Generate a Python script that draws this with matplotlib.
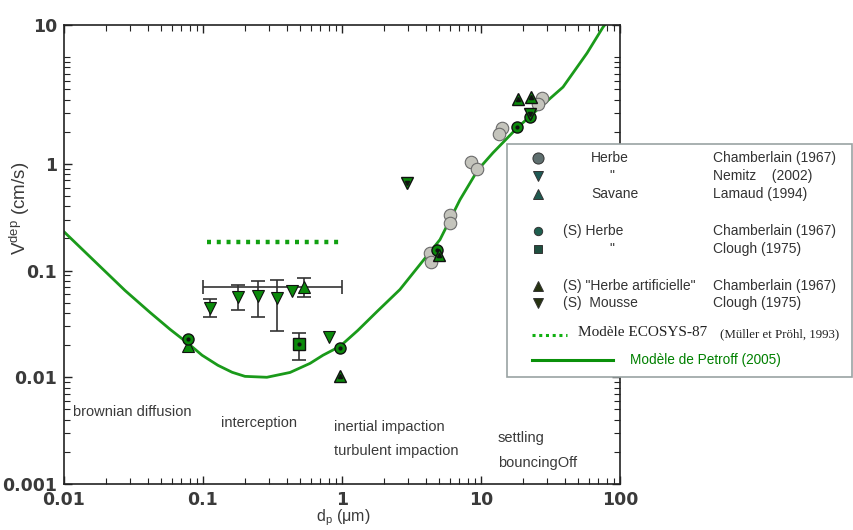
import numpy as np
import matplotlib
matplotlib.use("Agg")
import matplotlib.pyplot as plt
from matplotlib.lines import Line2D
from matplotlib.patches import Rectangle

# Modele de Petroff (2005)
petroff_x = [0.01, 0.0182, 0.0275, 0.0416, 0.058, 0.078, 0.0984, 0.128, 0.162, 0.2005,
             0.288, 0.423, 0.589, 0.73, 0.968, 1.30, 1.79, 2.61, 3.64, 5.07,
             7.06, 9.5, 12.2, 18.2, 25.3, 38.9, 57.9, 75.5, 80]
petroff_y = [0.231, 0.109, 0.065, 0.0405, 0.0281, 0.0208, 0.0161, 0.01295, 0.01114, 0.0102,
             0.0100, 0.0111, 0.0135, 0.0161, 0.0195, 0.0275, 0.0414, 0.0664, 0.114, 0.195,
             0.461, 0.879, 1.27, 2.17, 3.20, 5.24, 10.9, 19.1, 21]

# Modele ECOSYS-87
ecosys_x = [0.107, 1.0]
ecosys_y = [0.187, 0.187]

# Herbe - Chamberlain (1967)
herbe_x = [4.3, 4.4, 6.0, 6.0, 8.5, 9.35, 14.2, 13.4, 27.5, 25.7]
herbe_y = [0.147, 0.121, 0.333, 0.28, 1.04, 0.90, 2.17, 1.9, 4.14, 3.64]

# Nemitz (2002)
nemitz_x = [0.112, 0.179, 0.249, 0.34, 0.44, 0.81]
nemitz_y = [0.045, 0.057, 0.058, 0.055, 0.064, 0.024]
# error bars of the first four Nemitz points
nemitz_lo = [0.0364, 0.043, 0.037, 0.027]
nemitz_hi = [0.0547, 0.074, 0.079, 0.082]

# Savane - Lamaud (1994)
savane_x = [0.078, 0.53]
savane_y = [0.0195, 0.070]
# error bars of the second Lamaud point
savane_ylo, savane_yhi = 0.057, 0.086
savane_xlo, savane_xhi = 0.1, 1.0

# (S) Herbe - Chamberlain (1967)
sherbe_x = [0.078, 0.97, 4.82, 18.2, 22.5]
sherbe_y = [0.023, 0.019, 0.157, 2.22, 2.75]

# (S) Herbe - Clough (1975)
clough_x = [0.49]
clough_y = [0.0203]
clough_lo = [0.0144]
clough_hi = [0.026]

# (S) "Herbe artificielle" - Chamberlain (1967)
artif_x = [0.97, 5.0, 18.5, 22.9]
artif_y = [0.0102, 0.14, 4.05, 4.23]

# (S) Mousse - Clough (1975)
mousse_x = [2.94, 22.5]
mousse_y = [0.66, 2.9]

zones = ["brownian diffusion", "interception", "inertial impaction",
         "turbulent impaction", "settling", "bouncingOff"]

W, H = 854, 530
plt.rcParams['font.family'] = ['Liberation Sans', 'DejaVu Sans']
fig = plt.figure(figsize=(W / 100, H / 100), dpi=100)
ax = fig.add_axes([64 / W, 1 - 484 / H, 556 / W, 459 / H])

green = '#1a9a1a'
mgreen = '#0b8a0b'
txt = '#3a3a3a'

ax.plot(petroff_x, petroff_y, color=green, lw=2, zorder=2, solid_joinstyle='round')
ax.plot(ecosys_x, ecosys_y, color='#10a010', lw=3.2, ls=(0, (0.9, 1.3)), zorder=2)

# error bars
eb = dict(fmt='none', ecolor='#333333', elinewidth=1.2, capsize=5, capthick=1.2, zorder=3)
ny = np.array(nemitz_y[:4])
ax.errorbar(nemitz_x[:4], ny, yerr=[ny - nemitz_lo, np.array(nemitz_hi) - ny], **eb)
ax.errorbar([savane_x[1]], [savane_y[1]],
            xerr=[[savane_x[1] - savane_xlo], [savane_xhi - savane_x[1]]],
            yerr=[[savane_y[1] - savane_ylo], [savane_yhi - savane_y[1]]], **eb)
cy = np.array(clough_y)
ax.errorbar(clough_x, cy, yerr=[cy - clough_lo, np.array(clough_hi) - cy], **eb)

# markers
ax.plot(herbe_x, herbe_y, 'o', ms=9, mfc='#c4c4bc', mec='#6a6a6a', mew=0.8, zorder=4)
ax.plot(nemitz_x, nemitz_y, 'v', ms=9, mfc=mgreen, mec='#111111', mew=0.8, zorder=4)
ax.plot(savane_x, savane_y, '^', ms=9, mfc=mgreen, mec='#111111', mew=0.8, zorder=4)
ax.plot(sherbe_x, sherbe_y, 'o', ms=8, mfc=mgreen, mec='#111111', mew=1.0, zorder=5)
ax.plot(sherbe_x, sherbe_y, 'o', ms=2, mfc='#111111', mec='#111111', zorder=5)
ax.plot(clough_x, clough_y, 's', ms=8, mfc=mgreen, mec='#111111', mew=1.0, zorder=5)
ax.plot(clough_x, clough_y, 'o', ms=2, mfc='#111111', mec='#111111', zorder=5)
ax.plot(artif_x, artif_y, '^', ms=9, mfc=mgreen, mec='#111111', mew=1.0, zorder=5)
ax.plot(artif_x, artif_y, '^', ms=3, mfc='#111111', mec='#111111', zorder=5)
ax.plot(mousse_x, mousse_y, 'v', ms=9, mfc=mgreen, mec='#111111', mew=1.0, zorder=5)
ax.plot(mousse_x, mousse_y, 'v', ms=3, mfc='#111111', mec='#111111', zorder=5)

ax.set_xscale('log')
ax.set_yscale('log')
ax.set_xlim(0.01, 100)
ax.set_ylim(0.001, 20)
ax.set_xticks([0.01, 0.1, 1, 10, 100])
ax.set_xticklabels(['0.01', '0.1', '1', '10', '100'])
ax.set_yticks([0.001, 0.01, 0.1, 1, 20])
ax.set_yticklabels(['0.001', '0.01', '0.1', '1', '10'])
ymin = [m * d for d in [0.001, 0.01, 0.1] for m in range(2, 10)] + [m for m in range(2, 11)]
ax.set_yticks(ymin, minor=True)
xmin = [m * d for d in [0.01, 0.1, 1, 10] for m in range(2, 10)]
ax.set_xticks(xmin, minor=True)
ax.set_yticklabels([], minor=True)
ax.set_xticklabels([], minor=True)
ax.tick_params(which='both', direction='in', top=True, right=True, color='#222222')
ax.tick_params(which='major', length=6, width=1, labelsize=12.5, labelcolor=txt, pad=5)
ax.tick_params(which='minor', length=4, width=0.8)
for lab in ax.get_xticklabels() + ax.get_yticklabels():
    lab.set_fontweight('bold')
    lab.set_family(['DejaVu Sans'])
for s in ax.spines.values():
    s.set_color('#222222')
    s.set_linewidth(1.2)


def fx(px):
    return px / W


def fy(py):
    return 1 - py / H


fig.text(fx(20), fy(208), r'V$^{\mathregular{dep}}$ (cm/s)', rotation=90, ha='center', va='center',
         fontsize=13.5, color=txt)
fig.text(fx(343), fy(518), r'd$_{\mathregular{p}}$ ($\mathregular{\mu}$m)', ha='center', va='center',
         fontsize=11.5, color=txt)

zone_pos = [(73, 412), (221, 423), (334, 427), (334, 451), (498, 438), (498, 463)]
for z, (px, py) in zip(zones, zone_pos):
    fig.text(fx(px), fy(py), z, ha='left', va='center', fontsize=10.5, color=txt)

# legend box
fig.patches.append(Rectangle((fx(507), fy(377)), fx(852) - fx(507), fy(144) - fy(377),
                             transform=fig.transFigure, facecolor='white', edgecolor='#9aa3a3',
                             lw=1.2, zorder=10))

leg_rows = [
    ('o', '#5f6f6f', 8, 'Herbe', 591, 'Chamberlain (1967)', 158),
    ('v', '#1f5a55', 7, '"', 609, 'Nemitz    (2002)', 176),
    ('^', '#1f5a50', 7, 'Savane', 591, 'Lamaud (1994)', 194),
    ('o', '#1f5f4f', 6, '(S) Herbe', 563, 'Chamberlain (1967)', 231),
    ('s', '#1f4f3f', 6, '"', 609, 'Clough (1975)', 249),
    ('^', '#263210', 7, '(S) "Herbe artificielle"', 563, 'Chamberlain (1967)', 286),
    ('v', '#263210', 7, '(S)  Mousse', 563, 'Clough (1975)', 303),
]
for mk, col, ms, name, nx, ref, py in leg_rows:
    fig.add_artist(Line2D([fx(538)], [fy(py)], marker=mk, ms=ms, mfc=col, mec='#333333',
                          mew=0.7, transform=fig.transFigure, zorder=11))
    fig.text(fx(nx), fy(py), name, ha='left', va='center', fontsize=10,
             color='#333333', zorder=11)
    fig.text(fx(713), fy(py), ref, ha='left', va='center', fontsize=10,
             color='#333333', zorder=11)

fig.add_artist(Line2D([fx(532), fx(567)], [fy(335), fy(335)], color='#10b010', lw=2.2,
                      ls=(0, (1, 1.2)), transform=fig.transFigure, zorder=11))
fig.text(fx(578), fy(333), 'Modèle ECOSYS-87', ha='left', va='center', fontsize=11,
         family=['Liberation Serif', 'DejaVu Serif'], color='#222222', zorder=11)
fig.text(fx(720), fy(334), '(Müller et Pröhl, 1993)', ha='left', va='center', fontsize=9.3,
         family=['Liberation Serif', 'DejaVu Serif'], color='#222222', zorder=11)
fig.add_artist(Line2D([fx(532), fx(613)], [fy(360), fy(360)], color='#0a900a', lw=2.2,
                      transform=fig.transFigure, zorder=11))
fig.text(fx(630), fy(360), 'Modèle de Petroff (2005)', ha='left', va='center', fontsize=9.8,
         color='#008000', zorder=11)

fig.savefig('out.png', dpi=100)
